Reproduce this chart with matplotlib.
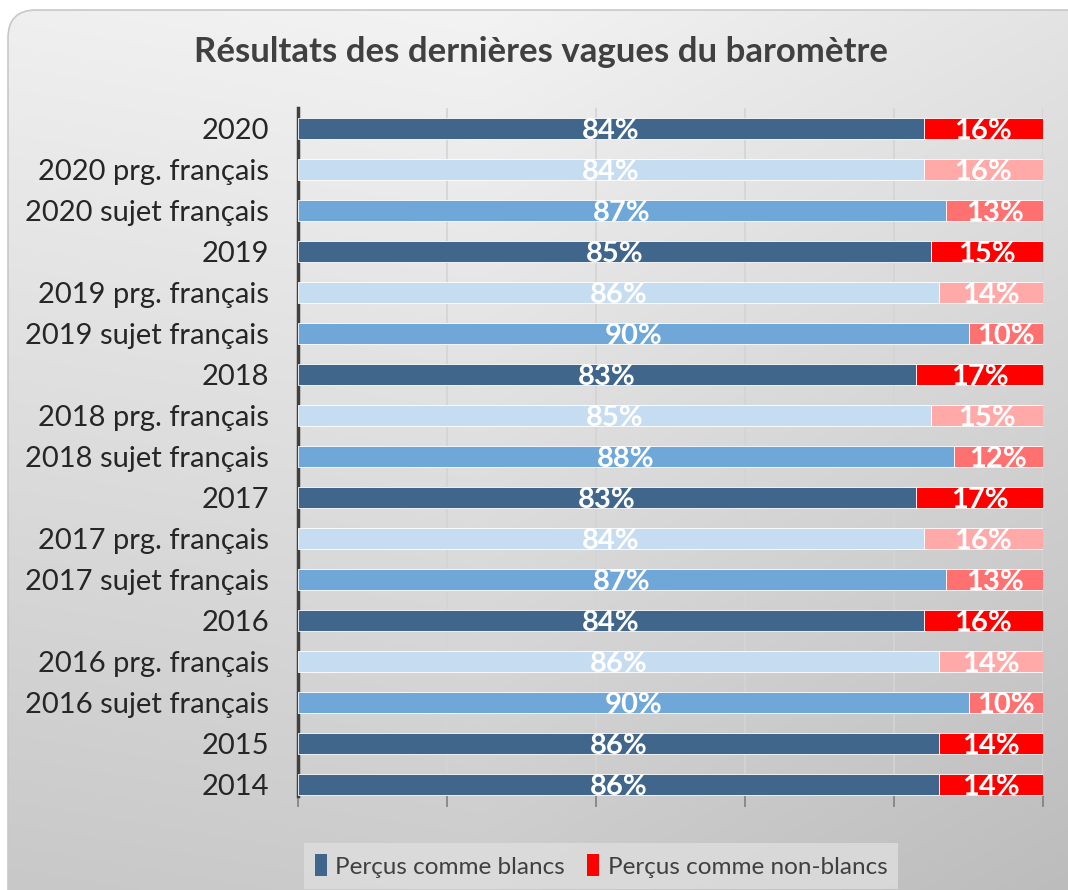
import matplotlib
matplotlib.use("Agg")

import matplotlib.pyplot as plt
import numpy as np
from matplotlib.patches import FancyBboxPatch, Patch

# ── Data ───────────────────────────────────────────────────────────────
categories = [
    "2020", "2020 prg. français", "2020 sujet français",
    "2019", "2019 prg. français", "2019 sujet français",
    "2018", "2018 prg. français", "2018 sujet français",
    "2017", "2017 prg. français", "2017 sujet français",
    "2016", "2016 prg. français", "2016 sujet français",
    "2015", "2014",
]
blancs = [84, 84, 87, 85, 86, 90, 83, 85, 88, 83, 84, 87, 84, 86, 90, 86, 86]
non_blancs = [16, 16, 13, 15, 14, 10, 17, 15, 12, 17, 16, 13, 16, 14, 10, 14, 14]
kinds = ["all", "prg", "sujet", "all", "prg", "sujet", "all", "prg", "sujet",
         "all", "prg", "sujet", "all", "prg", "sujet", "all", "all"]

blue = {"all": "#40668C", "prg": "#C5DCF1", "sujet": "#6FA7D9"}
red = {"all": "#FF0000", "prg": "#FFA9A9", "sujet": "#FF7171"}

FONT = ["Lato", "DejaVu Sans"]

fig = plt.figure(figsize=(10.68, 8.9), dpi=100)

# ── Background: rounded panel with grey gradient ───────────────────────
bg = fig.add_axes([0, 0, 1, 1], zorder=-10)
bg.set_xlim(0, 1068)
bg.set_ylim(890, 0)
bg.axis("off")
yy, xx = np.mgrid[0:890, 0:1068]
shade = 248 - 40 * (yy / 890) - 18 * np.abs(xx - 480) / 1068 - 10 * (xx / 1068)
img = np.dstack([shade, shade, shade]) / 255.0
im = bg.imshow(img, extent=(0, 1068, 890, 0), aspect="auto")
panel = FancyBboxPatch((8, 10), 1100, 960, boxstyle="round,pad=0,rounding_size=28",
                       facecolor="none", edgecolor="#c8c8c8", linewidth=1.2)
bg.add_patch(panel)
im.set_clip_path(panel)

# ── Bars ───────────────────────────────────────────────────────────────
ax = fig.add_axes([298 / 1068, 1 - 796 / 890, 745 / 1068, 688 / 890])
ax.patch.set_alpha(0)
y = np.arange(len(categories))
b_left = np.array(blancs) / 100
b_right = np.array(non_blancs) / 100
ax.barh(y, b_left, height=0.5, color=[blue[k] for k in kinds],
        edgecolor="#ffffff", linewidth=0.6, zorder=3)
ax.barh(y, b_right, left=b_left, height=0.5, color=[red[k] for k in kinds],
        edgecolor="#ffffff", linewidth=0.6, zorder=3)

for i in range(len(categories)):
    ax.text(b_left[i] / 2, i + 0.07, f"{blancs[i]}%", ha="center", va="center",
            color="white", fontsize=21, fontweight="bold", family=FONT, zorder=4)
    ax.text(b_left[i] + b_right[i] / 2, i + 0.07, f"{non_blancs[i]}%", ha="center",
            va="center", color="white", fontsize=21, fontweight="bold",
            family=FONT, zorder=4)

ax.set_xlim(0, 1)
ax.set_ylim(len(categories) - 0.72, -0.5)
ax.set_yticks(y)
ax.set_yticklabels(categories, family=FONT, fontsize=21, color="#262626")
ax.set_xticks([0, 0.2, 0.4, 0.6, 0.8, 1.0])
ax.set_xticklabels([])
ax.tick_params(axis="y", length=0, pad=21)
ax.tick_params(axis="x", length=8, color="#7f7f7f", width=1.2, direction="out")
ax.grid(axis="x", color="#d4d4d4", linewidth=1.2, zorder=0)
for side in ["top", "right", "bottom"]:
    ax.spines[side].set_visible(False)
ax.spines["left"].set_color("#404040")
ax.spines["left"].set_linewidth(2.5)

# ── Title and legend ──────────────────────────────────────────────────
fig.text(541 / 1068, 1 - 52 / 890, "Résultats des dernières vagues du baromètre",
         ha="center", va="center", fontsize=25, fontweight="bold",
         color="#404040", family=FONT)

handles = [Patch(facecolor=blue["all"], label="Perçus comme blancs"),
           Patch(facecolor=red["all"], label="Perçus comme non-blancs")]
leg = fig.legend(handles=handles, loc="center", bbox_to_anchor=(601 / 1068, 1 - 866 / 890),
                 ncol=2, frameon=True, handlelength=0.5, handleheight=1.0,
                 handletextpad=0.35, columnspacing=0.9, fancybox=False,
                 borderpad=0.45, prop={"family": FONT, "size": 17.5})
leg.get_frame().set_facecolor("#dedede")
leg.get_frame().set_edgecolor("none")
for t in leg.get_texts():
    t.set_color("#404040")

fig.savefig("out.png", dpi=100)
